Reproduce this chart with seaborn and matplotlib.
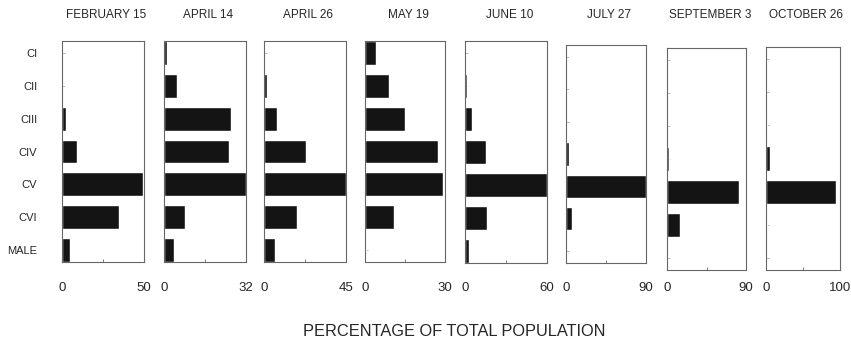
import matplotlib
matplotlib.use("Agg")
import matplotlib.pyplot as plt
import seaborn as sns

# Stages of development (rows of every panel)
stages = ["CI", "CII", "CIII", "CIV", "CV", "CVI", "MALE"]

# Sampling dates and the x-axis maximum used in each panel
dates = ["FEBRUARY 15", "APRIL 14", "APRIL 26", "MAY 19",
         "JUNE 10", "JULY 27", "SEPTEMBER 3", "OCTOBER 26"]
xmax = [50, 32, 45, 30, 60, 90, 90, 100]

# Percentage of total population per stage
feb15 = [0, 0, 2.2, 9.2, 49.6, 35.0, 5.0]
apr14 = [1.0, 5.0, 26.3, 25.2, 32, 8.0, 4.0]
apr26 = [0, 1.5, 7.3, 23.1, 45, 18.0, 6.2]
may19 = [4.1, 9.1, 15.0, 27.3, 29.1, 10.9, 0.3]
jun10 = [0, 1.7, 5.1, 15.2, 60, 16.2, 2.9]
jul27 = [0, 0, 0, 3.0, 90, 7.1, 0.5]
sep03 = [0, 0, 0, 1.9, 82.4, 14.4, 0.5]
oct26 = [0, 0, 1.0, 6.0, 95, 1.0, 0]
series = [feb15, apr14, apr26, may19, jun10, jul27, sep03, oct26]

# panel boxes in pixels: left, right, top, bottom (scanned figure, slightly misaligned)
boxes = [(62, 144, 41, 262), (164, 246, 41, 262), (264, 346, 41, 262),
         (365, 445, 41, 262), (465, 547, 41, 263), (566, 646, 45, 263),
         (667, 746, 48, 270), (766, 840, 47, 270)]

sns.set_style("white")
plt.rcParams['font.family'] = ['Liberation Sans Narrow', 'Liberation Sans', 'DejaVu Sans']

W, H = 851, 346
fig = plt.figure(figsize=(W / 100, H / 100), dpi=100)

for i, (vals, date, mx, box) in enumerate(zip(series, dates, xmax, boxes)):
    l, r, t, b = box
    ax = fig.add_axes([l / W, 1 - b / H, (r - l) / W, (b - t) / H])
    sns.barplot(x=vals, y=stages, order=stages, ax=ax, color="#141414",
                saturation=1, width=0.73, orient="h")
    ax.set_xlim(0, mx)
    ax.set_ylim(6.37, -0.37)
    ax.set_xticks([0, mx / 2, mx], labels=["0", "", str(mx)])
    ax.tick_params(axis='x', bottom=True, direction='in', length=2, width=0.6,
                   color="#666", labelsize=9.5, pad=(279 - b) * 0.72 + 2)
    ax.tick_params(axis='y', left=True, direction='in', length=2, width=0.6,
                   color="#aaa", labelsize=8, pad=18)
    if i > 0:
        ax.set_yticklabels([])
    ax.set_xlabel("")
    ax.set_ylabel("")
    for s in ax.spines.values():
        s.set_color("#666")
        s.set_linewidth(0.8)
    fig.text((l + r) / 2 / W + 0.004, 1 - 15 / H, date, ha="center", va="center",
             fontsize=8.5)

fig.text(454 / W, 1 - 332 / H, "PERCENTAGE OF TOTAL POPULATION", ha="center",
         va="center", fontsize=11.8, family=['Liberation Sans', 'DejaVu Sans'])

fig.savefig("out.png", dpi=100)
